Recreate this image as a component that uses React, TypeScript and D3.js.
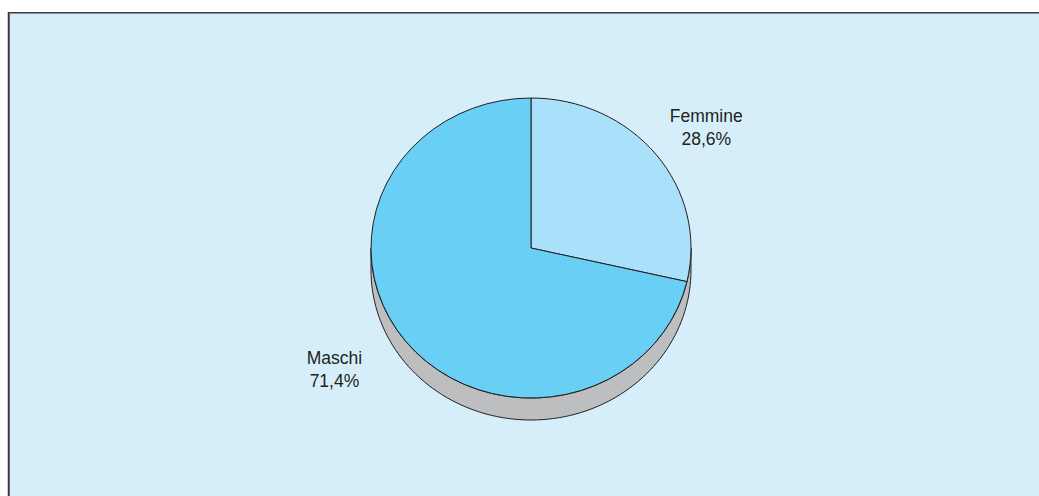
import React from "react";
import * as d3 from "d3";

// Data
const categories = ["Femmine", "Maschi"];
const values = [28.6, 71.4];
const valueLabels = ["28,6%", "71,4%"];
const colors = ["#a9e1fa", "#69cff5"];

// label distance from centre, as a share of the radius
const labelReach = [1.4, 1.57];

const width = 1039;
const height = 496;
const cx = 531;
const cy = 248;
const rx = 160;
const ry = 150;
const depth = 22;
const stroke = "#231f20";

const App: React.FC = () => {
  const pie = d3
    .pie<number>()
    .sort(null)
    .value((d) => d);
  const arcs = pie(values);

  const arc = d3.arc<d3.PieArcDatum<number>>().innerRadius(0).outerRadius(rx);

  // side wall of the disc: lower half of the top ellipse down to the bottom one
  const side = d3.path();
  side.moveTo(cx - rx, cy);
  side.lineTo(cx - rx, cy + depth);
  const steps = 90;
  for (let i = 0; i <= steps; i++) {
    const t = Math.PI - (Math.PI * i) / steps;
    side.lineTo(cx + rx * Math.cos(t), cy + depth + ry * Math.sin(t));
  }
  side.lineTo(cx + rx, cy);
  for (let i = 0; i <= steps; i++) {
    const t = (Math.PI * i) / steps;
    side.lineTo(cx + rx * Math.cos(t), cy + ry * Math.sin(t));
  }
  side.closePath();

  return (
    <svg
      width={width}
      height={height}
      style={{ display: "block", position: "fixed", left: 0, top: 0 }}
      fontFamily="'Liberation Sans', Arial, Helvetica, sans-serif"
    >
      <rect x={0} y={0} width={width} height={height} fill="#ffffff" />
      <rect x={8} y={12} width={width - 8} height={height - 12} fill="#d6eefa" />
      <line x1={8} x2={width} y1={12.75} y2={12.75} stroke="#3b3a3c" strokeWidth={1.5} />
      <line x1={8.75} x2={8.75} y1={12} y2={height} stroke="#3b3a3c" strokeWidth={2} />

      <path d={side.toString()} fill="#bcbec0" stroke={stroke} strokeWidth={1} />

      <g transform={`translate(${cx},${cy}) scale(1,${ry / rx})`}>
        {arcs.map((a, i) => (
          <path
            key={categories[i]}
            d={arc(a) ?? ""}
            fill={colors[i]}
            stroke={stroke}
            strokeWidth={1}
            vectorEffect="non-scaling-stroke"
            strokeLinejoin="round"
          />
        ))}
      </g>

      {arcs.map((a, i) => {
        const mid = (a.startAngle + a.endAngle) / 2;
        const lx = cx + Math.sin(mid) * rx * labelReach[i];
        const ly = cy - Math.cos(mid) * ry * 1.29;
        return (
          <text
            key={categories[i]}
            x={lx}
            y={ly}
            textAnchor="middle"
            fontSize={17.5}
            fill="#231f20"
          >
            <tspan x={lx} dy={-5}>
              {categories[i]}
            </tspan>
            <tspan x={lx} dy={23}>
              {valueLabels[i]}
            </tspan>
          </text>
        );
      })}
    </svg>
  );
};

export default App;
